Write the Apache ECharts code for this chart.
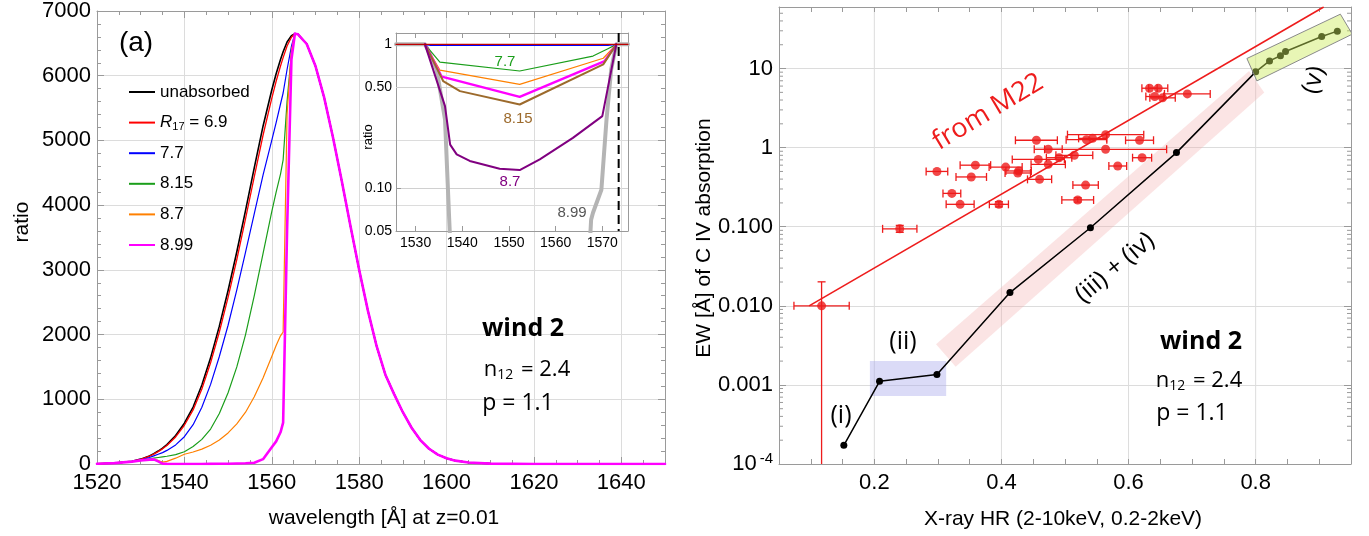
<!DOCTYPE html>
<html><head><meta charset="utf-8">
<script src="https://cdn.jsdelivr.net/npm/echarts@6/dist/echarts.min.js"></script>
<style>html,body{margin:0;padding:0;background:#fff}#c{width:1369px;height:536px}</style>
</head><body><div id="c"></div>
<script>
// ---------------- LEFT PANEL DATA ----------------
const leftWl = [1520,1524,1528,1530,1532,1533,1534,1535,1536,1538,1540,1542,1544,1546,1548,1550,1552,1554,1556,1558,1560,1561,1562,1562.6,1563.5,1564.5];
const unabsorbedL = [4,14,42,75,125,160,200,245,300,440,630,880,1220,1640,2130,2680,3280,3920,4580,5220,5780,6030,6250,6370,6520,6620];
const r69L  = [4,14,41,73,120,153,191,234,286,418,598,836,1160,1565,2040,2575,3160,3790,4440,5080,5650,5915,6150,6280,6460,6595];
const r77L  = [4,13,37,62,100,125,150,176,210,295,422,607,878,1230,1661,2144,2690,3273,3870,4463,5000,5276,5563,5733,6096,6455];
const r815L = [4,13,37,58,80,90,100,110,120,145,190,270,380,540,780,1100,1500,2000,2600,3250,3900,4200,4480,4700,5600,6350];
const r87L  = [4,13,37,56,68,70,55,30,40,90,150,185,230,290,370,480,620,800,1040,1330,1660,1830,1980,2040,5400,6400];
const r899L = [4,13,37,56,68,72,40,5,2,1,1,1,1,2,3,5,8,12,20,75,260,350,490,640,3600,6250];
const rightWl = [1565.3,1566,1568,1570,1572,1574,1576,1578,1580,1582,1584,1586,1588,1590,1592,1594,1596,1598,1600,1602,1605,1610,1615,1620,1650];
const rightVals = [6650,6640,6490,6150,5660,5050,4380,3680,3000,2370,1820,1380,1080,800,560,370,235,145,88,52,24,6,2,1,0];
const legendNames = ['unabsorbed','R17 = 6.9','7.7','8.15','8.7','8.99'];

// ---------------- INSET DATA (wavelength, ratio) ----------------
const insetRed    = [[1525.8,1],[1575.5,1]];
const insetBlue   = [[1532.0,1],[1533.2,0.984],[1571.2,0.984],[1573.0,1]];
const insetGreen  = [[1532.0,1],[1535.2,0.753],[1552.3,0.652],[1568.0,0.829],[1571.2,0.933],[1573.0,1]];
const insetOrange = [[1532.0,1],[1535.2,0.662],[1552.3,0.526],[1570.2,0.80],[1573.0,1]];
const insetMagenta= [[1532.0,1],[1535.6,0.595],[1552.3,0.431],[1570.5,0.765],[1573.0,1]];
const insetBrown  = [[1532.0,1],[1535.9,0.555],[1539.5,0.472],[1552.3,0.381],[1570.2,0.725],[1573.0,1]];
const insetPurple = [[1532.0,1],[1536.3,0.371],[1537.4,0.2],[1538.8,0.171],[1541.6,0.154],[1548.0,0.136],[1552.3,0.133],[1556.6,0.158],[1563.7,0.223],[1570.0,0.316],[1573.0,1]];
const insetGray   = [[1525.8,1],[1532.0,1],[1532.4,0.948],[1534.5,0.669],[1536.3,0.30],[1537.2,0.06],[1537.6,0.03],[1552,0.001],[1567.1,0.03],[1567.6,0.06],[1568.0,0.067],[1569.8,0.097],[1570.9,0.30],[1571.9,0.669],[1573.0,1],[1575.5,1]];
const insetLineCenter = 1573.5;

// ---------------- RIGHT PANEL DATA ----------------
const xrayHR = [0.240,0.2985,0.322,0.335,0.3525,0.359,0.396,0.4066,0.427,0.4257,0.455,0.458,0.460,0.4736,0.4736,0.4907,0.5147,0.520,0.5324,0.5338,0.5434,0.5639,0.5639,0.583,0.6173,0.6213,0.633,0.6467,0.6412,0.6535,0.6925,0.117];
const ewCIV  = [0.094,0.50,0.264,0.192,0.426,0.60,0.192,0.568,0.507,0.478,1.24,0.71,0.397,0.953,0.615,0.746,0.80,0.218,0.336,1.26,1.31,1.46,0.953,0.586,1.24,0.746,5.64,5.64,4.43,4.26,4.78,0.010];
const hrErr  = [0.027,0.017,0.014,0.022,0.024,0.024,0.015,0.026,0.020,0.020,0.033,0.041,0.019,0.022,0.027,0.020,0.029,0.025,0.020,0.032,0.022,0.060,0.096,0.014,0.022,0.015,0.012,0.015,0.014,0.020,0.036,0.0435];
const ewLo   = [0.085,0,0,0,0,0,0.178,0,0,0,0,0,0,0,0,0,0,0.205,0,0,0,0,0,0,0,0,0,0,0,0,0,0.0001];
const ewHi   = [0.104,0,0,0,0,0,0.207,0,0,0,0,0,0,0,0,0,0,0.232,0,0,0,0,0,0,0,0,0,0,0,0,0,0.0201];
const m22HR = [0.0974, 0.907];
const m22EW = [0.01, 60];
const modelHR = [0.152,0.2082,0.2985,0.4134,0.540,0.6754,0.800,0.8218,0.839,0.847,0.9039,0.9285];
const modelEW = [1.72e-4,0.00111,0.00135,0.0147,0.097,0.865,9.08,12.5,14.5,16.4,25.4,29.7];
const bandIII = [[0.2971,0.00327],[0.7896,9.34],[0.8135,4.97],[0.328,0.0017]];
const boxII   = [[0.193,0.00201],[0.313,0.00201],[0.313,7.26e-4],[0.193,7.26e-4]];
const boxV    = [[0.7862,13.4],[0.9333,48.7],[0.952,27.2],[0.8019,6.98]];
const hrGridLines = [0.2,0.4,0.6,0.8];

// ---------------- STYLE ----------------
const FONT = '"Liberation Sans", Arial, sans-serif';
const ANN = '"Open Sans", "Noto Sans", sans-serif';
const FRAME = '#9a9a9a';
const GRID = '#dcdcdc';
const RED = '#ee1c1c';

const chart = echarts.init(document.getElementById('c'), null, {renderer:'canvas'});

function near(v, p){ return Math.abs(Math.log10(v) - p) < 1e-4; }
function minorLog(min, max){
  const out=[];
  for(let k=Math.floor(Math.log10(min)); k<=Math.ceil(Math.log10(max)); k++){
    for(let m=2;m<=9;m++){ const v=m*Math.pow(10,k); if(v>min*1.0001 && v<max*0.9999) out.push(v); }
  }
  return out;
}
const plain = v => String(Math.round(v));

const lineAxisX = (gi, pos, extra) => Object.assign({
  gridIndex: gi, position: pos, type:'value',
  axisLine:{show:true,onZero:false,lineStyle:{color:FRAME,width:1}},
  axisTick:{show:true,inside:true,length:7,lineStyle:{color:FRAME}},
  axisLabel:{show:pos==='bottom',fontFamily:FONT,fontSize:22,color:'#000',margin:8,formatter:plain},
  splitLine:{show:false}
}, extra);
const lineAxisY = (gi, pos, extra) => Object.assign({
  gridIndex: gi, position: pos, type:'value',
  axisLine:{show:true,onZero:false,lineStyle:{color:FRAME,width:1}},
  axisTick:{show:true,inside:true,length:7,lineStyle:{color:FRAME}},
  axisLabel:{show:pos==='left',fontFamily:FONT,fontSize:22,color:'#000',margin:6,formatter:plain},
  splitLine:{show:false}
}, extra);

const xAxes = [
  lineAxisX(0,'bottom',{min:1520,max:1650,interval:20,minorTick:{show:true,splitNumber:4,length:4,lineStyle:{color:FRAME}},splitLine:{show:true,lineStyle:{color:GRID}}}),
  lineAxisX(0,'top',{min:1520,max:1650,interval:20,minorTick:{show:true,splitNumber:4,length:4,lineStyle:{color:FRAME}}}),
  lineAxisX(1,'bottom',{min:1525.8,max:1575.5,splitNumber:5,axisTick:{show:true,inside:true,length:5,lineStyle:{color:FRAME}},
    axisLabel:{show:true,fontFamily:FONT,fontSize:14,color:'#000',margin:5,showMinLabel:false,showMaxLabel:false,formatter:v=>(Math.abs(v-Math.round(v/10)*10)<1e-6)?String(Math.round(v)):''}}),
  lineAxisX(1,'top',{min:1525.8,max:1575.5,splitNumber:5,axisTick:{show:true,inside:true,length:5,lineStyle:{color:FRAME}}}),
  lineAxisX(2,'bottom',{min:0.05,max:0.95,interval:0.05,axisTick:{show:true,inside:true,length:5,lineStyle:{color:FRAME}},
    axisLabel:{show:true,fontFamily:FONT,fontSize:22,color:'#000',margin:8,formatter:v=>{const r=Math.round(v*100);return (r%20===0&&r>0&&r<95)?(v.toFixed(1)):'';}}}),
  lineAxisX(2,'top',{min:0.05,max:0.95,interval:0.05,axisTick:{show:true,inside:true,length:5,lineStyle:{color:FRAME}}})
];
const yAxes = [
  lineAxisY(0,'left',{min:0,max:7000,interval:1000,minorTick:{show:true,splitNumber:5,length:4,lineStyle:{color:FRAME}},splitLine:{show:true,lineStyle:{color:GRID}}}),
  lineAxisY(0,'right',{min:0,max:7000,interval:1000,minorTick:{show:true,splitNumber:5,length:4,lineStyle:{color:FRAME}}}),
  lineAxisY(1,'left',{type:'log',logBase:10,min:0.05,max:1.2,axisTick:{show:true,inside:true,length:5,lineStyle:{color:FRAME}},splitLine:{show:true,lineStyle:{color:'#d0d0d0'}},
    axisLabel:{show:true,fontFamily:FONT,fontSize:14,color:'#000',margin:4,formatter:v=>near(v,0)?'1':near(v,-1)?'0.10':(Math.abs(v-0.05)<0.002?'0.05':'')}}),
  lineAxisY(1,'right',{type:'log',logBase:10,min:0.05,max:1.2,axisTick:{show:false}}),
  lineAxisY(2,'left',{type:'log',logBase:10,min:1e-4,max:60,splitLine:{show:true,lineStyle:{color:GRID}},
    axisLabel:{show:true,fontFamily:FONT,fontSize:22,color:'#000',margin:6,
      formatter:v=>near(v,-4)?'{b|10}{s|-4}':near(v,-3)?'0.001':near(v,-2)?'0.010':near(v,-1)?'0.100':near(v,0)?'1':near(v,1)?'10':'',
      rich:{b:{fontFamily:FONT,fontSize:22,color:'#000'},s:{fontFamily:FONT,fontSize:15,color:'#000',verticalAlign:'top',padding:[0,0,10,3]}}}}),
  lineAxisY(2,'right',{type:'log',logBase:10,min:1e-4,max:60})
];

function lineS(name, data, color, width, xi, z){
  return {name, type:'line', data, xAxisIndex:xi, yAxisIndex:xi, showSymbol:false, symbol:'none', z:z||2,
    lineStyle:{color, width, join:'round', cap:'round'}, itemStyle:{color}, clip:true, silent:true};
}
const mkLeft = vals => leftWl.map((w,i)=>[w,vals[i]]).concat(rightWl.map((w,i)=>[w,rightVals[i]]));

const series = [];
// left panel
series.push(lineS('unabsorbed', mkLeft(unabsorbedL), '#000000', 1.6, 0, 2));
series.push(lineS('R17 = 6.9', mkLeft(r69L), '#ff0000', 1.3, 0, 3));
series.push(lineS('7.7', mkLeft(r77L), '#0000ff', 1.2, 0, 3));
series.push(lineS('8.15', mkLeft(r815L), '#1a9e1a', 1.2, 0, 3));
series.push(lineS('8.7', mkLeft(r87L), '#ff8000', 1.2, 0, 3));
series.push(lineS('8.99', mkLeft(r899L), '#ff00ff', 2.6, 0, 4));

// inset
series.push({type:'custom', xAxisIndex:2, yAxisIndex:2, z:1, clip:false, silent:true, data:[[1550,0.5]],
  renderItem:(p,api)=>{const cs=p.coordSys; const py=api.coord([1550,0.5])[1];
    return {type:'group',children:[
      {type:'line',shape:{x1:cs.x,y1:py,x2:cs.x+cs.width,y2:py},style:{stroke:'#d0d0d0',lineWidth:1}},
      {type:'text',x:cs.x-4,y:py,style:{text:'0.50',fill:'#000',font:'14px '+FONT,align:'right',verticalAlign:'middle',textAlign:'right',textVerticalAlign:'middle'}}]};}});
series.push(lineS('i-gray', insetGray, '#b4b4b4', 4, 2, 2));
series.push(lineS('i-green', insetGreen, '#1a9e1a', 1.2, 2, 3));
series.push(lineS('i-orange', insetOrange, '#ff8000', 1.2, 2, 3));
series.push(lineS('i-magenta', insetMagenta, '#ff00ff', 2.4, 2, 3));
series.push(lineS('i-brown', insetBrown, '#9c6a2c', 2, 2, 3));
series.push(lineS('i-purple', insetPurple, '#800080', 2, 2, 3));
series.push(lineS('i-blue', insetBlue, '#0000ff', 1.2, 2, 3));
series.push(lineS('i-red', insetRed, '#c00000', 1.2, 2, 3));
series.push({type:'custom', xAxisIndex:2, yAxisIndex:2, z:4, clip:false, silent:true, data:[[insetLineCenter,1]],
  renderItem:(p,api)=>{const cs=p.coordSys; const px=api.coord([api.value(0),1])[0];
    return {type:'line',shape:{x1:px,y1:cs.y,x2:px,y2:cs.y+cs.height},style:{stroke:'#000',lineWidth:2,lineDash:[9,5]}};}});

// right panel
series.push({type:'custom', xAxisIndex:4, yAxisIndex:4, z:0, clip:true, silent:true, data:hrGridLines.map(x=>[x,1]),
  renderItem:(p,api)=>{const cs=p.coordSys; const px=api.coord([api.value(0),1])[0];
    return {type:'line',shape:{x1:px,y1:cs.y,x2:px,y2:cs.y+cs.height},style:{stroke:GRID,lineWidth:1}};}});
series.push({type:'custom', xAxisIndex:4, yAxisIndex:4, z:0, clip:false, silent:true, data:minorLog(1e-4,60).map(v=>[0.5,v]),
  renderItem:(p,api)=>{const cs=p.coordSys; const py=api.coord([0.5,api.value(1)])[1];
    return {type:'group',children:[
      {type:'line',shape:{x1:cs.x,y1:py,x2:cs.x+4,y2:py},style:{stroke:FRAME,lineWidth:1}},
      {type:'line',shape:{x1:cs.x+cs.width-4,y1:py,x2:cs.x+cs.width,y2:py},style:{stroke:FRAME,lineWidth:1}}]};}});
function poly(pts, fill, stroke, z){
  return {type:'custom', xAxisIndex:4, yAxisIndex:4, z, clip:true, silent:true, data:[pts[0]],
    renderItem:(p,api)=>({type:'polygon',shape:{points:pts.map(q=>api.coord(q))},style:{fill,stroke:stroke||null,lineWidth:1}})};
}
series.push(poly(bandIII,'rgba(242,170,170,0.32)',null,1));
series.push(poly(boxII,'rgba(170,170,235,0.42)',null,1));
series.push({name:'M22', type:'line', xAxisIndex:4, yAxisIndex:4, z:2, silent:true, showSymbol:false, symbol:'none',
  data:m22HR.map((x,i)=>[x,m22EW[i]]), lineStyle:{color:RED,width:1.6}});
series.push({type:'custom', xAxisIndex:4, yAxisIndex:4, z:3, clip:true, silent:true,
  data:xrayHR.map((x,i)=>[x,ewCIV[i],hrErr[i],ewLo[i],ewHi[i]]),
  renderItem:(p,api)=>{
    const x=api.value(0),y=api.value(1),xe=api.value(2),lo=api.value(3),hi=api.value(4);
    const a=api.coord([x-xe,y]), b=api.coord([x+xe,y]);
    const st={stroke:RED,lineWidth:1.3};
    const ch=[{type:'line',shape:{x1:a[0],y1:a[1],x2:b[0],y2:b[1]},style:st},
      {type:'line',shape:{x1:a[0],y1:a[1]-4,x2:a[0],y2:a[1]+4},style:st},
      {type:'line',shape:{x1:b[0],y1:b[1]-4,x2:b[0],y2:b[1]+4},style:st}];
    if(lo>0){const t=api.coord([x,hi]), d=api.coord([x,lo]);
      ch.push({type:'line',shape:{x1:t[0],y1:t[1],x2:d[0],y2:d[1]},style:st});
      ch.push({type:'line',shape:{x1:t[0]-4,y1:t[1],x2:t[0]+4,y2:t[1]},style:st});
      if(lo>1.5e-4) ch.push({type:'line',shape:{x1:d[0]-4,y1:d[1],x2:d[0]+4,y2:d[1]},style:st});}
    return {type:'group',children:ch};}});
series.push({type:'scatter', xAxisIndex:4, yAxisIndex:4, z:4, silent:true, symbol:'circle', symbolSize:9,
  data:xrayHR.map((x,i)=>[x,ewCIV[i]]), itemStyle:{color:RED}});
series.push({type:'line', xAxisIndex:4, yAxisIndex:4, z:5, silent:true, symbol:'circle', symbolSize:7, showSymbol:true,
  data:modelHR.map((x,i)=>[x,modelEW[i]]), lineStyle:{color:'#000',width:1.5}, itemStyle:{color:'#000'}});
series.push(poly(boxV,'rgba(205,235,90,0.45)','#8a8a8a',6));

// annotations
const T = (text, x, y, size, opts) => Object.assign({type:'text', x, y, z:100, rotation:(opts&&opts.rot||0)*Math.PI/180,
  style:Object.assign({text, fill:(opts&&opts.color)||'#000', font:(opts&&opts.weight||'normal')+' '+size+'px '+((opts&&opts.family)||FONT),
    align:'center', verticalAlign:'middle', textAlign:'center', textVerticalAlign:'middle'}, (opts&&opts.style)||{})}, {});
const subRich = {n:{fontFamily:ANN,fontSize:22,color:'#000'}, s:{fontFamily:ANN,fontSize:14,color:'#000',verticalAlign:'bottom',padding:[10,2,0,0]}};
const graphics = [
  T('ratio', 22, 222, 21, {rot:90}),
  T('wavelength [Å] at z=0.01', 384, 518, 21),
  T('EW [Å] of C IV absorption', 704, 238, 21, {rot:90}),
  T('X-ray HR (2-10keV, 0.2-2keV)', 1063, 519, 21),
  T('(a)', 136, 43, 28),
  T('wind 2', 523, 329, 25, {weight:'bold', family:ANN}),
  {type:'text', x:527, y:370, z:100, style:{text:'{n|n}{s|12}{n| = 2.4}', rich:subRich, align:'center', verticalAlign:'middle', textAlign:'center', textVerticalAlign:'middle'}},
  T('p = 1.1', 518, 403, 23, {family:ANN}),
  T('ratio', 368, 137, 13, {rot:90}),
  T('7.7', 505, 62, 15, {color:'#1a9e1a'}),
  T('8.15', 518, 119, 15, {color:'#9c6a2c'}),
  T('8.7', 510, 182, 15, {color:'#800080'}),
  T('8.99', 572, 213, 15, {color:'#555'}),
  T('from M22', 988, 112, 27, {color:RED, rot:31, family:ANN}),
  T('(iii) + (iv)', 1115, 268, 25, {rot:40, family:ANN}),
  T('(v)', 1314, 80, 25, {rot:75, family:ANN}),
  T('(ii)', 903, 342, 25, {family:ANN}),
  T('(i)', 841, 416, 25, {family:ANN}),
  T('wind 2', 1201, 342, 25, {weight:'bold', family:ANN}),
  {type:'text', x:1199, y:381, z:100, style:{text:'{n|n}{s|12}{n| = 2.4}', rich:subRich, align:'center', verticalAlign:'middle', textAlign:'center', textVerticalAlign:'middle'}},
  T('p = 1.1', 1192, 413, 23, {family:ANN})
];

chart.setOption({
  animation:false,
  backgroundColor:'#fff',
  grid:[
    {left:97, top:11, width:568, height:453},
    {left:396, top:33, width:232, height:198},
    {left:779, top:7, width:572, height:457}
  ],
  xAxis:xAxes, yAxis:yAxes,
  legend:{left:124, top:77, orient:'vertical', icon:'rect', itemWidth:26, itemHeight:2, itemGap:10.6, data:legendNames, selectedMode:false,
    textStyle:{fontFamily:FONT, fontSize:17, color:'#000', lineHeight:20,
      rich:{it:{fontFamily:FONT,fontSize:17,fontStyle:'italic',color:'#000',lineHeight:20},
            sub:{fontFamily:FONT,fontSize:11,color:'#000',verticalAlign:'bottom',lineHeight:20,padding:[6,0,0,0]},
            t:{fontFamily:FONT,fontSize:17,color:'#000',lineHeight:20}}},
    formatter:n=> n==='R17 = 6.9' ? '{it|R}{sub|17}{t| = 6.9}' : n},
  series,
  graphic:graphics
});
</script></body></html>
